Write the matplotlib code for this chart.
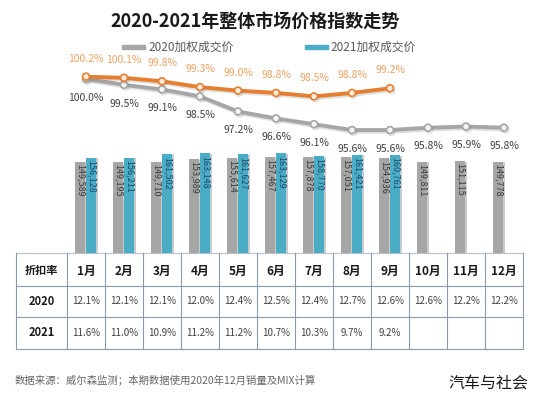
import numpy as np
import matplotlib
matplotlib.use('Agg')
import matplotlib.pyplot as plt
import matplotlib.patheffects as pe
from matplotlib.lines import Line2D
from matplotlib.patches import Rectangle

plt.rcParams['font.family'] = ['Noto Sans CJK SC', 'DejaVu Sans']

# data
months = ['1月', '2月', '3月', '4月', '5月', '6月', '7月', '8月', '9月', '10月', '11月', '12月']
price_2020 = [149589, 149195, 149710, 153989, 155614, 157467, 157878, 157051, 154936, 149811, 151115, 149778]
price_2021 = [156128, 156211, 161502, 163148, 161627, 163129, 158770, 161421, 160761]
index_2020 = [100.0, 99.5, 99.1, 98.5, 97.2, 96.6, 96.1, 95.6, 95.6, 95.8, 95.9, 95.8]
index_2021 = [100.2, 100.1, 99.8, 99.3, 99.0, 98.8, 98.5, 98.8, 99.2]
disc_2020 = ['12.1%', '12.1%', '12.1%', '12.0%', '12.4%', '12.5%', '12.4%', '12.7%', '12.6%', '12.6%', '12.2%', '12.2%']
disc_2021 = ['11.6%', '11.0%', '10.9%', '11.2%', '11.2%', '10.7%', '10.3%', '9.7%', '9.2%']

W, H = 541, 399
def fx(x):
    return x / W
def fy(y):
    return 1 - y / H

c_gray = '#a6a6a6'
c_cyan = '#4bacc6'
c_orange = '#e67e30'
c_orange_lbl = '#eda264'
c_grid = '#8a9aab'

fig = plt.figure(figsize=(W / 100, H / 100), dpi=100)

# chart area
left, right, top, bottom = 67, 523, 50, 253
ax = fig.add_axes([fx(left), fy(bottom), fx(right - left), (bottom - top) / H])
x = np.arange(len(months))
bw = 0.27
ax.bar(x - 0.155, price_2020, width=bw, color=c_gray,
       path_effects=[pe.SimplePatchShadow(offset=(1.5, -0.5), alpha=0.25), pe.Normal()])
x21 = np.arange(len(price_2021))
ax.bar(x21 + 0.13, price_2021, width=bw, color=c_cyan,
       path_effects=[pe.SimplePatchShadow(offset=(1.5, -0.5), alpha=0.25), pe.Normal()])
for i, v in enumerate(price_2020):
    ax.text(i - 0.155, v - 3500, f'{v:,}', rotation=270, ha='center', va='top',
            fontsize=6.5, color='#3a3a3a')
for i, v in enumerate(price_2021):
    ax.text(i + 0.13, v - 3500, f'{v:,}', rotation=270, ha='center', va='top',
            fontsize=6.5, color='#1b4a6b')
ax.set_xlim(-0.5, len(months) - 0.5)
ax.set_ylim(0, 332800)
ax.axis('off')

ax2 = ax.twinx()
shadow = [pe.SimpleLineShadow(offset=(1.0, -1.3), alpha=0.25, shadow_color='#808080'), pe.Normal()]
ax2.plot(x, index_2020, color=c_gray, lw=2.8, marker='o', ms=5,
         mfc='#f4f4f4', mec=c_gray, mew=1.2, path_effects=shadow)
ax2.plot(x21, index_2021, color=c_orange, lw=2.8, marker='o', ms=5,
         mfc='#fbe9dc', mec=c_orange, mew=1.2, path_effects=shadow)
for i, v in enumerate(index_2020):
    ax2.annotate(f'{v:.1f}%', (i, v), xytext=(0, -13.5), textcoords='offset points',
                 ha='center', va='center', fontsize=7.5, color='#404040')
for i, v in enumerate(index_2021):
    ax2.annotate(f'{v:.1f}%', (i, v), xytext=(0, 13), textcoords='offset points',
                 ha='center', va='center', fontsize=7.5, color=c_orange_lbl)
ax2.set_ylim(85.0, 102.5)
ax2.axis('off')

# title and legend
fig.text(fx(255), fy(21), '2020-2021年整体市场价格指数走势', ha='center', va='center',
         fontsize=13, fontweight='bold', color='#1a1a1a')
fig.add_artist(Rectangle((fx(122), fy(49)), fx(23), 4.5 / H, color=c_gray, transform=fig.transFigure))
fig.text(fx(148), fy(47), '2020加权成交价', ha='left', va='center', fontsize=8.5, color='#595959')
fig.add_artist(Rectangle((fx(305), fy(49)), fx(23), 4.5 / H, color=c_cyan, transform=fig.transFigure))
fig.text(fx(330), fy(47), '2021加权成交价', ha='left', va='center', fontsize=8.5, color='#595959')

# table
t_left, t_first, t_right = 16, 67, 523
rows_y = [253, 286, 317, 349]
col_w = (t_right - t_first) / len(months)
for yy in rows_y:
    fig.add_artist(Line2D([fx(t_left), fx(t_right)], [fy(yy), fy(yy)], color=c_grid, lw=0.8,
                          alpha=0.6 if yy == 253 else 1.0))
vx = [t_left] + [t_first + k * col_w for k in range(len(months) + 1)]
for xx in vx:
    fig.add_artist(Line2D([fx(xx), fx(xx)], [fy(rows_y[0]), fy(rows_y[-1])], color=c_grid, lw=0.8))

fig.text(fx((t_left + t_first) / 2), fy(270), '折扣率', ha='center', va='center',
         fontsize=8, fontweight='bold', color='#1a1a1a')
fig.text(fx((t_left + t_first) / 2), fy(301.5), '2020', ha='center', va='center',
         fontsize=8, fontweight='bold', color='#1a1a1a')
fig.text(fx((t_left + t_first) / 2), fy(333), '2021', ha='center', va='center',
         fontsize=8, fontweight='bold', color='#1a1a1a')
for k, m in enumerate(months):
    cx = t_first + (k + 0.5) * col_w
    fig.text(fx(cx), fy(271), m, ha='center', va='center', fontsize=8.5,
             fontweight='bold', color='#1a1a1a')
    fig.text(fx(cx), fy(301.5), disc_2020[k], ha='center', va='center', fontsize=7, color='#404040')
    if k < len(disc_2021):
        fig.text(fx(cx), fy(333), disc_2021[k], ha='center', va='center', fontsize=7, color='#404040')

# footer
fig.text(fx(15), fy(380), '数据来源：威尔森监测；本期数据使用2020年12月销量及MIX计算',
         ha='left', va='center', fontsize=7.5, color='#666666')
fig.text(fx(528), fy(383), '汽车与社会', ha='right', va='center', fontsize=11.5, color='#1a1a1a')

fig.savefig('out.png', dpi=100, facecolor='white')
